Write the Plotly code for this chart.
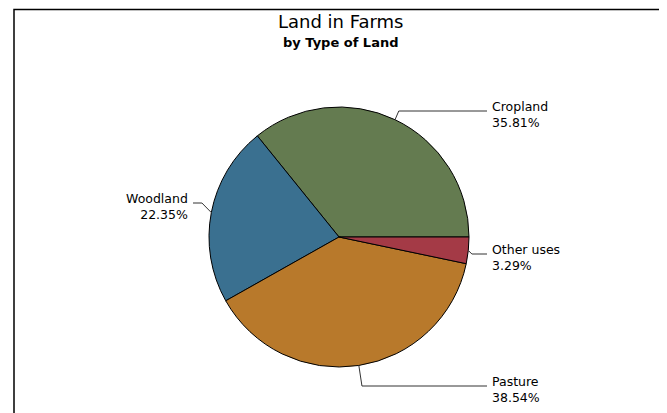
import math
import plotly.graph_objects as go

# ---- data ----
categories = ["Cropland", "Woodland", "Pasture", "Other uses"]
percents = [35.81, 22.35, 38.54, 3.29]
title_text = "Land in Farms"
subtitle_text = "by Type of Land"

# ---- styles / layout ----
colors = ["#647b50", "#3a7090", "#b8792b", "#a43a46"]
OFF = 8  # default body margin of the html page
W, H = 667 - OFF, 413 - OFF
CX, CY, R = 339.0, 237.0, 130.0
FONT = "DejaVu Sans"
# label anchor per slice: (x of label edge, y of leader line, side)
label_pos = {
    "Cropland": (490, 111, "right"),
    "Woodland": (190, 203, "left"),
    "Pasture": (490, 386, "right"),
    "Other uses": (490, 254, "right"),
}


def px(x):
    return (x - OFF) / W


def py(y):
    return 1 - (y - OFF) / H


total = sum(percents)
# plotly (counterclockwise) puts the first slice clockwise of `rotation`'s end,
# so offset rotation so that the first slice starts at 3 o'clock going ccw
rot = 90 - 360.0 * percents[0] / total

fig = go.Figure(
    go.Pie(
        labels=categories,
        values=percents,
        sort=False,
        direction="counterclockwise",
        rotation=rot,
        textinfo="none",
        marker=dict(colors=colors, line=dict(color="black", width=1)),
        domain=dict(x=[px(CX - R), px(CX + R)], y=[py(CY + R), py(CY - R)]),
        showlegend=False,
        hoverinfo="label+percent",
    )
)

shapes = []
annotations = []
cum = 0.0
for cat, val in zip(categories, percents):
    mid = (cum + val / 2) / total * 360.0
    cum += val
    th = math.radians(mid)
    ex, ey = CX + R * math.cos(th), CY - R * math.sin(th)
    lx, ly, side = label_pos[cat]
    bx = ex + math.cos(th) * abs(ly - ey)
    end_x = lx - 3 if side == "right" else lx + 3
    shapes.append(
        dict(
            type="path",
            xref="paper",
            yref="paper",
            path=f"M {px(ex)},{py(ey)} L {px(bx)},{py(ly)} L {px(end_x)},{py(ly)}",
            line=dict(color="#333333", width=1),
        )
    )
    annotations.append(
        dict(
            x=px(lx),
            y=py(ly + 3.5),
            xref="paper",
            yref="paper",
            xanchor="left" if side == "right" else "right",
            yanchor="middle",
            align="left" if side == "right" else "right",
            showarrow=False,
            text=f"{cat}<br>{val:.2f}%",
            font=dict(family=FONT, size=12.5, color="black"),
        )
    )

# frame
shapes.append(
    dict(
        type="rect",
        xref="paper",
        yref="paper",
        x0=px(14),
        x1=px(663),
        y0=py(413 + 10),
        y1=py(9.5),
        line=dict(color="black", width=1.5),
        fillcolor="rgba(0,0,0,0)",
    )
)

annotations.append(
    dict(x=px(340), y=py(22), xref="paper", yref="paper", showarrow=False,
         xanchor="center", yanchor="middle", text=title_text,
         font=dict(family=FONT, size=18, color="black"))
)
annotations.append(
    dict(x=px(340), y=py(43), xref="paper", yref="paper", showarrow=False,
         xanchor="center", yanchor="middle", text=f"<b>{subtitle_text}</b>",
         font=dict(family=FONT, size=13, color="black"))
)

fig.update_layout(
    width=W,
    height=H,
    margin=dict(l=0, r=0, t=0, b=0),
    paper_bgcolor="white",
    plot_bgcolor="white",
    shapes=shapes,
    annotations=annotations,
)

fig.write_html("out.html")
